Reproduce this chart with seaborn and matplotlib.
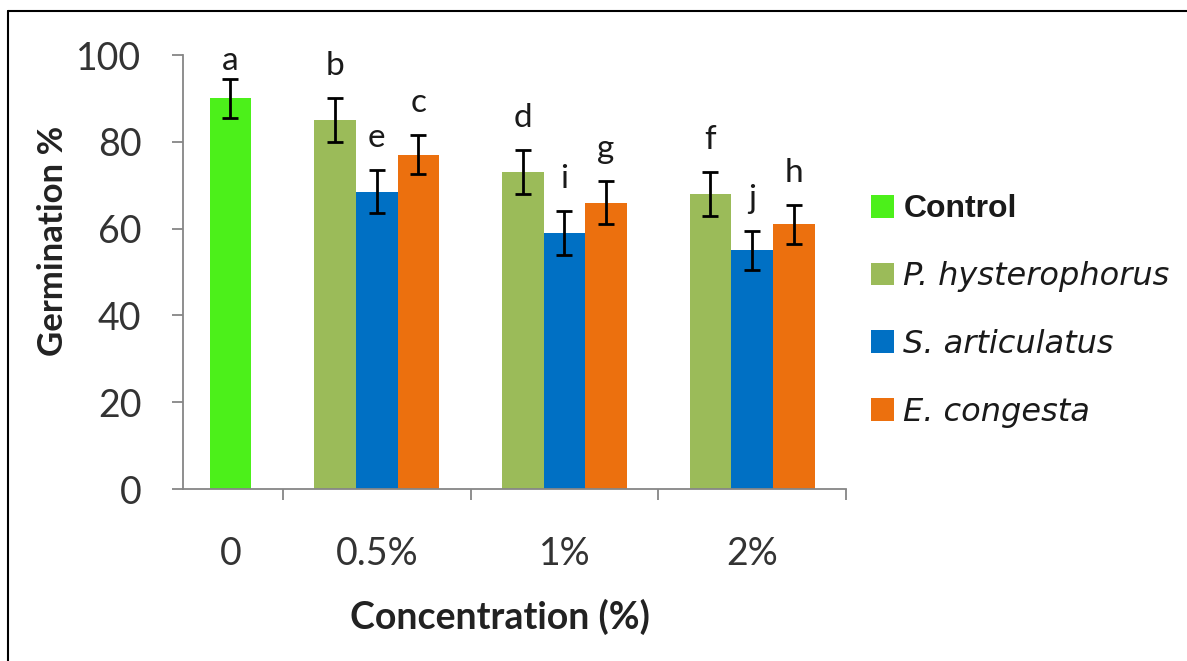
import matplotlib
matplotlib.use("Agg")
import matplotlib.pyplot as plt
from matplotlib.lines import Line2D
import seaborn as sns
import pandas as pd
import numpy as np

# ---- data ----
concentrations = ["0", "0.5%", "1%", "2%"]
series = ["Control", "P. hysterophorus", "S. articulatus", "E. congesta"]
control_mean = [90]
control_err = [4.5]
control_letters = ["a"]
p_mean = [85, 73, 68]
p_err = [5, 5, 5]
p_letters = ["b", "d", "f"]
s_mean = [68.5, 59, 55]
s_err = [5, 5, 4.5]
s_letters = ["e", "i", "j"]
e_mean = [77, 66, 61]
e_err = [4.5, 5, 4.5]
e_letters = ["c", "g", "h"]
yticks = [0, 20, 40, 60, 80, 100]

colors = ["#4CF01A", "#9BBB59", "#0070C4", "#EC700E"]

# ---- layout positions (category centres, bar offsets) ----
control_pos = 0.221
group_pos = [1.0, 2.0, 3.0]
bar_w = 0.222
offsets = {"P. hysterophorus": -bar_w, "S. articulatus": 0.0, "E. congesta": bar_w}

rows = []
rows.append(dict(series="Control", x=control_pos, value=control_mean[0],
                 err=control_err[0], letter=control_letters[0]))
for name, means, errs, lets in [("P. hysterophorus", p_mean, p_err, p_letters),
                                ("S. articulatus", s_mean, s_err, s_letters),
                                ("E. congesta", e_mean, e_err, e_letters)]:
    for g, m, e, l in zip(group_pos, means, errs, lets):
        rows.append(dict(series=name, x=round(g + offsets[name], 4), value=m, err=e, letter=l))
df = pd.DataFrame(rows)

sns.set_theme(style="white")
plt.rcParams["font.family"] = ["Lato", "DejaVu Sans"]

fig = plt.figure(figsize=(11.87, 6.61), dpi=100)
ax = fig.add_axes([183 / 1187, 172 / 661, (846 - 183) / 1187, (489 - 55) / 661])

sns.barplot(data=df, x="x", y="value", hue="series", hue_order=series,
            palette=colors, native_scale=True, dodge=False, width=1.0,
            errorbar=None, saturation=1, linewidth=0, ax=ax)

ax.errorbar(df["x"], df["value"], yerr=df["err"], fmt="none", ecolor="black",
            elinewidth=2, capsize=6, capthick=2, zorder=5)

for _, r in df.iterrows():
    ax.text(r["x"], min(r["value"] + r["err"] + 5.3, 96.5), r["letter"], ha="center",
            va="baseline", fontsize=24, color="#1a1a1a", clip_on=False)

ax.set_xlim(-0.032, 3.5)
ax.set_ylim(0, 100)
ax.set_yticks(yticks)
ax.set_yticklabels([str(t) for t in yticks], fontsize=27, color="#333333")
ax.set_xticks([control_pos] + group_pos)
ax.set_xticklabels(concentrations, fontsize=27, color="#333333")
ax.tick_params(axis="x", which="major", length=0, pad=34)
ax.set_xticks([0.5, 1.5, 2.5, 3.5], minor=True)
ax.tick_params(axis="x", which="minor", length=8, width=1.3, color="#868686", direction="out", bottom=True)
ax.tick_params(axis="y", length=8, width=1.3, color="#868686", direction="out", left=True, pad=22)

for sp in ["top", "right"]:
    ax.spines[sp].set_visible(False)
for sp in ["left", "bottom"]:
    ax.spines[sp].set_color("#868686")
    ax.spines[sp].set_linewidth(1.3)

ax.set_xlabel("Concentration (%)", fontsize=27, fontweight="bold", color="#222222")
ax.set_ylabel("Germination %", fontsize=25, fontweight="bold", color="#222222")
ax.xaxis.set_label_coords(0.478, -0.252)
ax.yaxis.set_label_coords(-0.172, 0.571)

handles, labels = ax.get_legend_handles_labels()
leg = ax.legend(handles, labels, loc="center left", bbox_to_anchor=(858 / 1187, 1 - 311 / 661),
                bbox_transform=fig.transFigure, frameon=False, fontsize=23,
                handlelength=0.72, handleheight=0.72, handletextpad=0.3, labelspacing=1.15,
                borderaxespad=0)
for i, t in enumerate(leg.get_texts()):
    if i == 0:
        t.set_fontweight("bold")
        t.set_family(["Liberation Sans", "DejaVu Sans"])
        t.set_fontsize(23)
    else:
        t.set_fontstyle("italic")
        t.set_family(["DejaVu Sans"])
    t.set_color("#1a1a1a")

fig.add_artist(Line2D([8 / 1187, 8 / 1187], [0, 1 - 11 / 661], transform=fig.transFigure,
                      color="black", lw=1.5))
fig.add_artist(Line2D([8 / 1187, 1], [1 - 11 / 661, 1 - 11 / 661], transform=fig.transFigure,
                      color="black", lw=1.5))

fig.savefig("out.png", dpi=100)
